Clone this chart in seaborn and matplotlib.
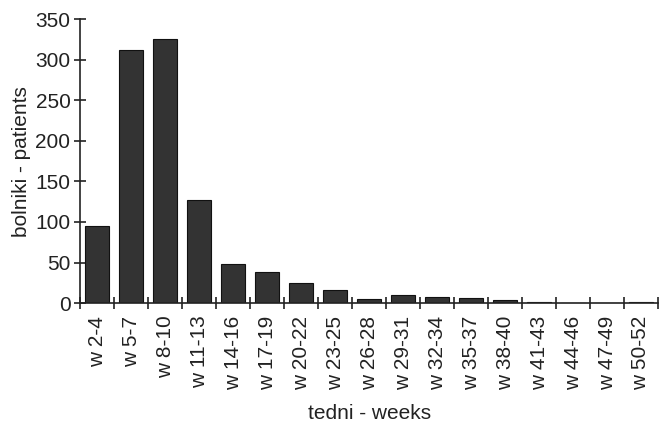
import matplotlib
matplotlib.use("Agg")
import matplotlib.pyplot as plt
import seaborn as sns
import pandas as pd
import numpy as np
from matplotlib.ticker import FixedLocator

categories = ["w 2-4", "w 5-7", "w 8-10", "w 11-13", "w 14-16", "w 17-19", "w 20-22",
              "w 23-25", "w 26-28", "w 29-31", "w 32-34", "w 35-37", "w 38-40",
              "w 41-43", "w 44-46", "w 47-49", "w 50-52"]
patients = [95, 312, 326, 127, 48, 38, 25, 16, 5, 10, 8, 6, 4, 1, 0, 0, 1]
y_ticks = [0, 50, 100, 150, 200, 250, 300, 350]

sns.set_style("ticks")
plt.rcParams['font.family'] = ['Liberation Sans', 'DejaVu Sans']

df = pd.DataFrame({"week": categories, "patients": patients})

fs = 15
fig = plt.figure(figsize=(6.62, 4.24), dpi=100)
ax = fig.add_axes([0.121, 0.285, 0.873, 0.67])
sns.barplot(data=df, x="week", y="patients", color="#333333", edgecolor="#111111",
            linewidth=0.8, width=0.72, saturation=1, ax=ax)

ax.set_ylim(0, 350)
ax.set_xlim(-0.5, len(categories) - 0.5)
ax.set_yticks(y_ticks)
ax.tick_params(axis='y', labelsize=fs, direction='inout', length=8, width=1.2, colors='#222222', pad=3)
ax.tick_params(axis='x', which='major', length=0, labelsize=fs, labelrotation=90, colors='#222222', pad=9)
ax.xaxis.set_minor_locator(FixedLocator(np.arange(-0.5, len(categories), 1.0)))
ax.tick_params(axis='x', which='minor', direction='inout', length=8, width=1.2, color='#222222')
for s in ['top', 'right']:
    ax.spines[s].set_visible(False)
for s in ['left', 'bottom']:
    ax.spines[s].set_linewidth(1.2)
    ax.spines[s].set_color('#222222')

ax.set_xlabel("tedni - weeks", fontsize=fs, color='#222222', labelpad=10)
ax.set_ylabel("bolniki - patients", fontsize=fs, color='#222222', labelpad=3)

fig.savefig("out.png", dpi=100)
